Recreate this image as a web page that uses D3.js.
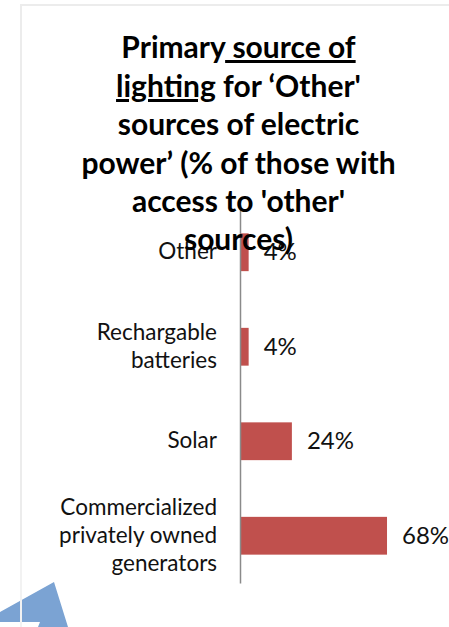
<!DOCTYPE html>
<html><head><meta charset="utf-8">
<script src="https://cdn.jsdelivr.net/npm/d3@7"></script>
<style>body{margin:0;background:#fff;}svg{display:block;}</style>
</head><body>
<script>
const categories = ["Other", "Rechargable batteries", "Solar", "Commercialized privately owned generators"];
const categoryLines = [["Other"], ["Rechargable", "batteries"], ["Solar"], ["Commercialized", "privately owned", "generators"]];
const values = [4, 4, 24, 68];
const valueLabels = ["4%", "4%", "24%", "68%"];
const titleLines = [
  [["Primary", false], [" source of", true]],
  [["lighting", true], [" for \u2018Other'", false]],
  [["sources of electric", false]],
  [["power\u2019 (% of those with", false]],
  [["access to 'other'", false]],
  [["sources)", false]]
];

const W = 449, H = 627;
const svg = d3.select("body").append("svg").attr("width", W).attr("height", H);
const font = "Lato, 'Open Sans', sans-serif";

// frame
svg.append("rect").attr("x", 21).attr("y", 5).attr("width", 500).attr("height", 700)
  .attr("fill", "none").attr("stroke", "#ececec").attr("stroke-width", 2);

const x = d3.scaleLinear().domain([0, 100]).range([240, 456.2]);
const y = d3.scaleBand().domain(categories).range([205, 583]).paddingInner(0.6).paddingOuter(0.3);

const g = svg.append("g");
g.selectAll("rect.bar").data(categories).join("rect").attr("class", "bar")
  .attr("x", x(0)).attr("y", d => y(d))
  .attr("width", (d, i) => x(values[i]) - x(0)).attr("height", y.bandwidth())
  .attr("fill", "#C0504D");

// axis
const axis = d3.axisLeft(y).tickSize(0).tickFormat("");
const ax = svg.append("g").attr("transform", `translate(${x(0)},0)`).call(axis);
ax.select(".domain").attr("stroke", "#8a8a8a").attr("stroke-width", 1.5);

// category labels
categories.forEach((c, i) => {
  const lines = categoryLines[i];
  const cy = y(c) + y.bandwidth() / 2 + 7;
  const t = svg.append("text").attr("text-anchor", "end").attr("font-family", font)
    .attr("font-size", 22.5).attr("fill", "#111");
  lines.forEach((l, j) => {
    t.append("tspan").attr("x", 217).attr("y", cy + (j - (lines.length - 1) / 2) * 28).text(l);
  });
});

// value labels
categories.forEach((c, i) => {
  svg.append("text").attr("x", x(values[i]) + 15).attr("y", y(c) + y.bandwidth() / 2 + 8)
    .attr("font-family", font).attr("font-size", 24).attr("fill", "#111").text(valueLabels[i]);
});

// decorative shape
svg.append("polygon").attr("points", "54,582 68,627 38,627 40,622 0,622 0,612")
  .attr("fill", "#7BA3D3");
svg.append("line").attr("x1", 21).attr("x2", 21).attr("y1", 560).attr("y2", 627)
  .attr("stroke", "#f2f2f2").attr("stroke-width", 2);

// title
const baselines = [58, 97, 135, 174, 212, 250];
titleLines.forEach((parts, i) => {
  const t = svg.append("text").attr("x", 238.5).attr("y", baselines[i]).attr("text-anchor", "middle")
    .attr("font-family", font).attr("font-weight", "bold").attr("font-size", 30).attr("fill", "#000")
    .style("white-space", "pre");
  parts.forEach(([s, u]) => {
    const ts = t.append("tspan").text(s);
    if (u) ts.attr("text-decoration", "underline");
  });
});
</script>
</body></html>
